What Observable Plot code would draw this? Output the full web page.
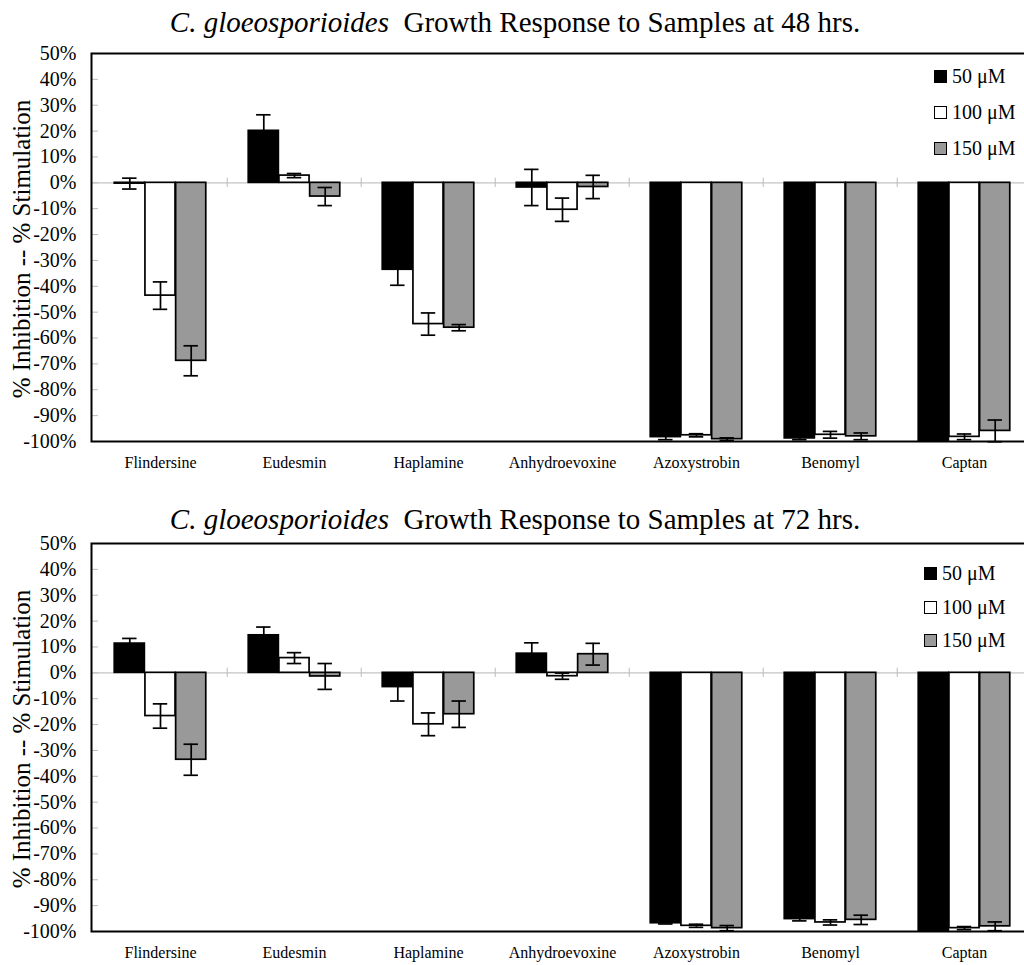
<!DOCTYPE html>
<html><head><meta charset="utf-8">
<script src="https://cdn.jsdelivr.net/npm/d3@7"></script>
<script src="https://cdn.jsdelivr.net/npm/@observablehq/plot@0.6"></script>
<style>
body{margin:0;background:#fff;font-family:"Liberation Serif","Times New Roman",serif;color:#000}
#wrap{position:relative;width:1024px;height:965px;overflow:hidden;background:#fff}
.title{position:absolute;left:0;width:1030px;text-align:center;font-size:29px;line-height:32px;white-space:pre}
.title i{font-style:italic}
.chart{position:absolute;left:0}
.ylab{position:absolute;font-size:25px;white-space:nowrap;transform:translate(-50%,-50%) rotate(-90deg);line-height:26px}
.legend{position:absolute;font-size:20px}
.legend .row{position:absolute;left:0;display:flex;align-items:center;white-space:nowrap;height:20px;transform:translateY(-50%)}
.legend .sw{width:11px;height:11px;border:1.5px solid #000;margin-right:5px;flex:none}
g[aria-label="y-axis tick label"]{font-size:20px}
g[aria-label="x-axis tick label"]{font-size:16px}
</style></head>
<body><div id="wrap"></div>
<script>
const categories = ["Flindersine","Eudesmin","Haplamine","Anhydroevoxine","Azoxystrobin","Benomyl","Captan"];
const concentrations = ["50 μM","100 μM","150 μM"];
const concFills = ["#000000","#ffffff","#999999"];
const yTicks = [50,40,30,20,10,0,-10,-20,-30,-40,-50,-60,-70,-80,-90,-100];

// 48 hrs
const v48_50  = [-0.3, 20.1, -33.6, -1.8, -98.3, -98.8, -100];
const v48_100 = [-43.6, 2.8, -54.6, -10.4, -97.6, -97.4, -98.2];
const v48_150 = [-68.8, -5.3, -56.0, -1.6, -99.1, -98.0, -95.9];
const e48_50  = [2.1, 6.2, 6.0, 7.0, 1.0, 0.5, 0];
const e48_100 = [5.3, 0.8, 4.3, 4.5, 0.6, 1.3, 1.1];
const e48_150 = [5.8, 3.5, 1.2, 4.5, 0.5, 1.3, 4.2];

// 72 hrs
const v72_50  = [11.3, 14.5, -5.5, 7.4, -96.8, -95.2, -100];
const v72_100 = [-16.7, 5.7, -19.9, -1.3, -97.8, -96.5, -98.7];
const v72_150 = [-33.6, -1.4, -16.0, 7.2, -98.7, -95.5, -98.0];
const e72_50  = [2.0, 3.2, 5.4, 4.2, 0.3, 0.7, 0];
const e72_100 = [4.7, 2.1, 4.4, 1.2, 0.6, 1.0, 0.6];
const e72_150 = [6.0, 5.0, 5.1, 4.2, 1.0, 1.8, 1.7];

const W = 1024, ML = 91, MR = -9;
const bw = (W - ML - MR) / categories.length;
const barW = 30.7;
const off = (bw - 3 * barW) / 2;
const capHalf = 7.5;

function makeChart(vals, errs, height, marginBottom) {
  const marks = [];
  marks.push(Plot.tickY(yTicks, {y: d => d, stroke: "#bbbbbb", insetRight: (W - ML - MR) - 7}));
  marks.push(Plot.ruleY([0], {stroke: "#c4c4c4", strokeWidth: 1.2}));
  marks.push(Plot.ruleX(categories.slice(1), {x: d => d, dx: -bw / 2, y1: -1.8, y2: 1.8, stroke: "#bbbbbb"}));
  for (let k = 0; k < 3; k++) {
    const rows = categories.map((cat, i) => ({cat, conc: concentrations[k], v: vals[k][i], e: errs[k][i]}));
    marks.push(Plot.barY(rows, {
      x: "cat", y1: () => 0, y2: "v", fill: concFills[k], stroke: "#000", strokeWidth: 1.7,
      insetLeft: off + k * barW, insetRight: bw - off - (k + 1) * barW
    }));
  }
  for (let k = 0; k < 3; k++) {
    const rows = categories.map((cat, i) => ({cat, v: vals[k][i], e: errs[k][i]})).filter(d => d.e > 0);
    const cx = off + (k + 0.5) * barW;
    marks.push(Plot.ruleX(rows, {x: "cat", y1: d => d.v - d.e, y2: d => d.v + d.e, dx: cx - bw / 2, stroke: "#000", strokeWidth: 1.7}));
    for (const sgn of [1, -1]) {
      marks.push(Plot.tickY(rows, {x: "cat", y: d => d.v + sgn * d.e, stroke: "#000", strokeWidth: 1.7,
        insetLeft: cx - capHalf, insetRight: bw - cx - capHalf}));
    }
  }
  marks.push(Plot.frame({stroke: "#000", strokeWidth: 2}));
  marks.push(Plot.axisY(yTicks, {tickFormat: d => d + "%", tickSize: 0, tickPadding: 15, fontSize: 20, label: null}));
  marks.push(Plot.axisX({tickSize: 0, tickPadding: 15, fontSize: 16, label: null}));
  return Plot.plot({
    width: W, height, marginLeft: ML, marginRight: MR, marginTop: 53, marginBottom,
    x: {domain: categories, padding: 0},
    y: {domain: [-100, 50]},
    style: {fontFamily: "'Liberation Serif','Times New Roman',serif", background: "transparent", color: "#000", overflow: "visible"},
    marks
  });
}

const wrap = document.getElementById("wrap");
function add(html) { const d = document.createElement("div"); d.innerHTML = html; const n = d.firstElementChild; wrap.appendChild(n); return n; }

function panel(top, height, marginBottom, vals, errs, hrs, titleTop, legendLeft, legendRows) {
  const c = document.createElement("div");
  c.className = "chart"; c.style.top = top + "px";
  c.appendChild(makeChart(vals, errs, height, marginBottom));
  wrap.appendChild(c);
  add(`<div class="title" style="top:${titleTop}px"><i>C. gloeosporioides</i>  Growth Response to Samples at ${hrs} hrs.</div>`);
  const ylab = add(`<div class="ylab">% Inhibition -- % Stimulation</div>`);
  ylab.style.left = "22px"; ylab.style.top = (top + 249) + "px";
  const lg = add(`<div class="legend"></div>`);
  lg.style.left = legendLeft + "px"; lg.style.top = "0px";
  concentrations.forEach((c, k) => {
    const r = document.createElement("div");
    r.className = "row"; r.style.top = legendRows[k] + "px";
    r.innerHTML = `<span class="sw" style="background:${concFills[k]}"></span><span>${c}</span>`;
    lg.appendChild(r);
  });
}

panel(0, 480, 39, [v48_50, v48_100, v48_150], [e48_50, e48_100, e48_150], 48, 6, 934, [76, 112, 148]);
panel(490, 475, 34, [v72_50, v72_100, v72_150], [e72_50, e72_100, e72_150], 72, 503, 924, [573, 607, 640]);
</script>
</body></html>
